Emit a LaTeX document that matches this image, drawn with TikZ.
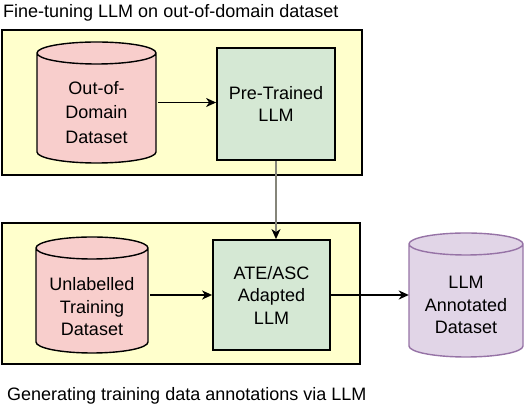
\documentclass[tikz,border=0pt]{standalone}
\usepackage{fontspec}
\setmainfont{Liberation Sans}
\usetikzlibrary{arrows.meta,calc}
\definecolor{frameyellow}{HTML}{FFFFCC}
\definecolor{dbpink}{HTML}{F8CECC}
\definecolor{llmgreen}{HTML}{D5E8D4}
\definecolor{outpurple}{HTML}{E1D5E7}
\definecolor{outpurpleline}{HTML}{9673A6}
\definecolor{linegray}{HTML}{85857A}
\newcommand\mycyl[6]{%
  \path[fill=#5,draw=#6,line width=1.4pt]
    ({#1-#3/2},{#2+#4/2-11}) -- ({#1-#3/2},{#2-#4/2+11})
    arc[start angle=180,end angle=360,x radius={#3/2*1pt},y radius=11pt]
    -- ({#1+#3/2},{#2+#4/2-11})
    arc[start angle=0,end angle=180,x radius={#3/2*1pt},y radius=11pt] -- cycle
    ({#1-#3/2},{#2+#4/2-11})
    arc[start angle=180,end angle=360,x radius={#3/2*1pt},y radius=11pt];}
\tikzset{
  frame/.style={fill=frameyellow,draw=black,line width=2.4pt},
  llmbox/.style={fill=llmgreen,draw=black,line width=1.8pt,inner sep=0pt,align=center,
    font={\fontsize{18}{22.5}\selectfont}},
  dbtext/.style={inner sep=0pt,align=center,font={\fontsize{18}{22.5}\selectfont}},
  title/.style={inner sep=0pt,anchor=base west,font={\fontsize{18}{22}\selectfont}},
  flow/.style={line width=1.8pt,-{Stealth[length=10pt,width=9pt,inset=3pt]}},
  thinflow/.style={line width=1.1pt,-{Stealth[length=10pt,width=9pt,inset=3pt]}},
  grayflow/.style={line width=1.5pt,draw=linegray,-{Stealth[length=10pt,width=9pt,inset=3pt,color=black]}}
}
\begin{document}
\begin{tikzpicture}[x=1pt,y=1pt]
\useasboundingbox (0,0) rectangle (528,404);
% frames
\path[frame] (2,374) rectangle (362,229);
\path[frame] (2,181) rectangle (360,40);
% titles
\node[title] (t1) at (3,386.5) {Fine-tuning LLM on out-of-domain dataset};
\node[title] (t2) at (7,3.5) {Generating training data annotations via LLM};
% cylinders
\mycyl{96.5}{301.5}{119}{121}{dbpink}{black}
\mycyl{92}{109}{112}{116}{dbpink}{black}
\mycyl{466}{109}{114}{124}{outpurple}{outpurpleline}
\node[dbtext,minimum width=119pt,minimum height=121pt,font={\fontsize{18}{24.5}\selectfont}] (ood) at (96.5,291.5) {Out-of-\\Domain\\Dataset};
\node[dbtext,minimum width=112pt,minimum height=116pt] (unl) at (92,97) {Unlabelled\\Training\\Dataset};
\node[dbtext,minimum width=114pt,minimum height=124pt] (ann) at (466,99) {LLM\\Annotated\\Dataset};
% boxes
\node[llmbox,minimum width=118pt,minimum height=112pt] (pt) at (276,300) {Pre-Trained\\LLM};
\node[llmbox,minimum width=117pt,minimum height=110pt] (ate) at (271.5,109) {ATE/ASC\\Adapted\\LLM};
% connectors
\draw[thinflow] ([xshift=2pt]ood.east |- 0,301.5) -- (pt.west |- 0,301.5);
\draw[grayflow] (pt.south) -- (pt.south |- ate.north);
\draw[flow] ([xshift=2pt]unl.east |- ate.west) -- (ate.west);
\draw[flow] (ate.east) -- (ann.west |- ate.east);
\end{tikzpicture}
\end{document}
